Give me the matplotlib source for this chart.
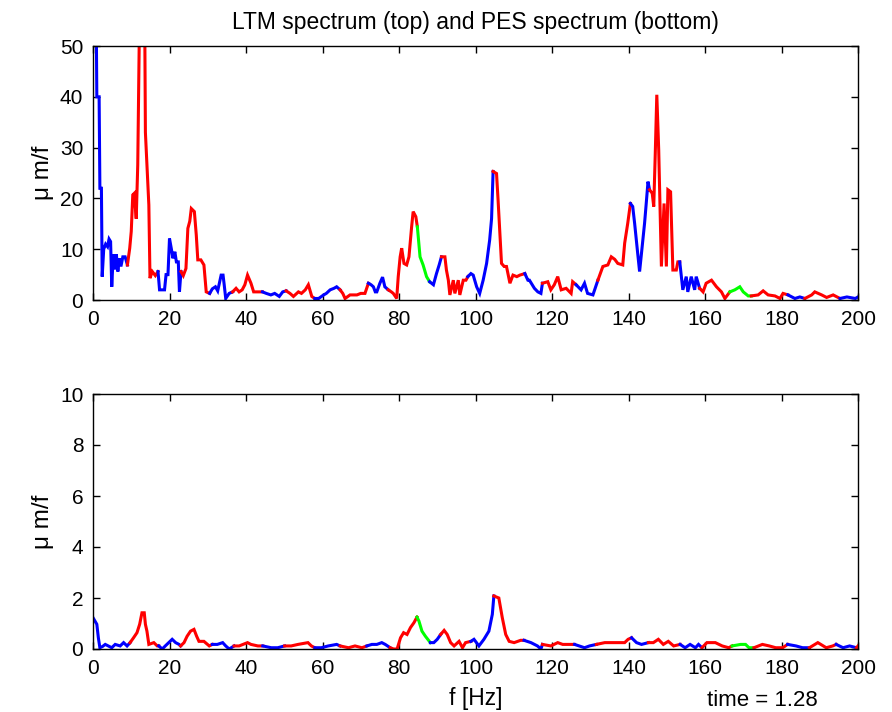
import matplotlib
matplotlib.use("Agg")
import matplotlib.pyplot as plt
import numpy as np

# ---------------- data ----------------
# frequency bands and their colours (shared by both spectra)
band_edges = [0, 9, 17, 22.7, 30.5, 35.7, 44, 49.7, 58, 64.5, 71.5, 77, 84.7, 88,
              90.7, 98, 104.5, 112.5, 117.3, 125.5, 131.5, 140, 145.2, 153.2,
              158.5, 166.5, 172, 180.5, 186, 193.8, 199.5, 200.01]
band_colors = ['b', 'r', 'b', 'r', 'b', 'r', 'b', 'r', 'b', 'r', 'b', 'r', 'g', 'b',
               'r', 'b', 'r', 'b', 'r', 'b', 'r', 'b', 'r', 'b', 'r', 'g', 'r', 'b',
               'r', 'b', 'r']

# LTM spectrum (top)
ltm_f = [0, 0.8, 1.0, 1.6, 1.8, 2.2, 2.4, 2.8, 3.3, 3.8, 4.2, 4.6, 4.9, 5.3, 5.7,
         6.1, 6.5, 6.9, 7.3, 7.8, 8.4, 9.0, 9.6, 10.0, 10.4, 10.8, 11.3, 11.7, 12.2,
         13.5, 13.7, 14.6, 14.9, 15.5, 16.3, 17.0, 17.4, 18.7, 19.1, 19.6, 20.0,
         20.5, 20.9, 21.4, 21.8, 22.3, 22.6, 23.0, 23.6, 24.3, 24.8, 25.3, 25.7,
         26.5, 27.0, 27.4, 28.2, 29.0, 29.6, 30.5, 31.2, 32.0, 32.6, 33.5, 34.0,
         34.3, 34.7, 35.6, 36.5, 37.4, 38.2, 39.0, 39.7, 40.4, 41.3, 42.0, 43.0,
         44.3, 45.3, 46.5, 47.5, 48.7, 49.6, 50.5, 51.5, 52.4, 53.7, 54.5, 55.5,
         56.3, 57.2, 58.0, 59.0, 60.3, 61.0, 62.0, 63.0, 63.7, 64.6, 65.3, 65.9,
         67.2, 68.0, 69.0, 70.0, 71.1, 72.0, 72.7, 73.3, 73.8, 74.2, 75.0, 75.7,
         76.3, 77.2, 78.0, 78.5, 79.4, 79.8, 80.3, 80.7, 81.3, 82.0, 82.6, 83.3,
         83.7, 84.4, 84.8, 85.5, 86.3, 87.2, 88.0, 89.0, 89.8, 90.5, 91.1, 92.0,
         92.4, 92.9, 93.3, 94.2, 94.6, 95.5, 95.9, 96.8, 97.5, 98.0, 98.8, 99.4,
         100.3, 101.1, 102.0, 102.9, 103.7, 104.2, 104.6, 105.5, 105.9, 106.8,
         107.5, 108.1, 109.0, 109.8, 110.8, 111.6, 112.9, 113.7, 114.1, 115.4,
         116.3, 117.1, 117.5, 118.9, 119.7, 120.6, 121.5, 122.4, 123.7, 125.0,
         125.4, 126.3, 127.6, 128.5, 129.3, 130.7, 132.0, 133.3, 134.6, 135.5,
         136.4, 137.2, 138.5, 139.0, 139.8, 140.5, 141.1, 141.6, 142.4, 142.9,
         143.3, 144.2, 144.6, 145.1, 145.5, 146.2, 146.6, 147.0, 147.4, 147.9,
         148.6, 149.3, 149.9, 150.3, 151.0, 151.6, 152.5, 152.9, 153.4, 154.2,
         155.1, 155.5, 156.4, 157.3, 157.7, 158.6, 159.5, 160.3, 161.7, 163.0,
         164.3, 165.2, 166.5, 167.8, 169.1, 170.0, 171.3, 172.1, 173.9, 175.2,
         176.5, 178.3, 179.6, 180.4, 181.7, 183.5, 184.8, 186.1, 187.9, 188.7,
         190.5, 191.8, 193.5, 195.3, 197.1, 199.3, 200.0]
ltm_v = [62, 60, 40, 40, 22, 22, 4.6, 10, 11, 10.5, 12, 11.5, 2.6, 9, 6,
         9, 5.6, 8.2, 6.6, 8.5, 8.5, 6.9, 10.2, 13.5, 20.7, 21, 16, 26.6, 58,
         58, 33, 18.7, 4.3, 5.6, 4.8, 5.6, 2.0, 2.0, 5.0, 5.0, 12.1,
         10, 8.2, 9.5, 7.5, 7.5, 1.6, 5.6, 4.8, 6.2, 14.1, 15.5, 18.0,
         17.4, 12.8, 7.9, 7.9, 6.9, 1.6, 1.3, 2.2, 2.6, 1.8, 4.9, 4.9,
         3.0, 0.3, 1.3, 1.6, 2.3, 1.6, 2.0, 3.0, 4.9, 3.3, 1.6, 1.6,
         1.6, 1.3, 1.0, 1.3, 0.7, 1.6, 1.8, 1.3, 0.7, 1.6, 1.3, 2.0,
         3.0, 0.7, 0.3, 0.3, 1.0, 1.3, 2.0, 2.3, 2.6, 2.0, 1.3, 0.3,
         1.0, 1.0, 1.0, 1.3, 1.3, 3.3, 3.0, 2.6, 1.6, 1.6, 3.3, 4.5,
         2.6, 2.0, 1.6, 1.3, 0.3, 4.6, 8.5, 10.2, 7.2, 6.9, 8.5, 14.4,
         17.4, 16.4, 14.4, 8.5, 6.9, 4.6, 3.6, 3.0, 5.2, 6.9, 8.5, 8.5,
         5.9, 3.9, 1.0, 3.9, 1.3, 3.9, 1.0, 3.9, 3.9, 4.6, 5.2, 4.9,
         2.6, 1.3, 3.9, 7.2, 11.8, 16.0, 25.3, 24.9, 19.7, 7.2,
         6.6, 6.6, 3.3, 4.9, 4.6, 4.9, 5.2, 3.9, 3.9, 2.3,
         1.6, 1.3, 3.3, 3.6, 2.0, 3.0, 4.6, 2.0, 2.3, 1.3,
         3.6, 3.0, 2.0, 3.3, 1.3, 1.0, 3.9, 6.6, 6.9, 8.5,
         8.0, 7.2, 6.9, 11.2, 15.1, 19.0, 18.4, 15.1, 9.2, 5.6,
         8.5, 15.1, 18.7, 23.3, 21.7, 21.0, 18.4, 28.9, 40.4, 29.5,
         6.6, 19.0, 6.6, 21.7, 21.3, 5.9, 5.9, 7.5, 7.5, 2.0,
         4.6, 1.6, 4.6, 2.0, 4.6, 2.3, 1.6, 3.3, 3.9, 2.6,
         1.6, 0.3, 1.6, 2.0, 2.6, 1.6, 0.8, 0.8, 1.0, 1.8,
         1.0, 0.8, 0.3, 1.3, 1.0, 0.3, 0.6, 0.3, 1.0, 1.6,
         1.0, 0.5, 1.0, 0.3, 0.6, 0.3, 0.6]

# PES spectrum (bottom)
pes_f = [0, 0.5, 1.0, 1.4, 1.8, 2.5, 3.2, 4.0, 4.9, 5.8, 7.1, 8.0, 8.9, 9.7, 10.6,
         11.5, 12.2, 12.8, 13.4, 13.7, 14.1, 14.6, 15.9, 16.8, 17.2, 18.1, 18.9,
         19.8, 20.7, 21.6, 22.5, 22.9, 23.8, 24.6, 25.5, 26.4, 27.1, 27.7, 29.0,
         30.4, 31.2, 32.5, 33.9, 34.7, 35.6, 36.9, 38.2, 40.4, 41.3, 43.1, 44.4,
         46.6, 48.3, 50.1, 51.8, 53.6, 56.2, 57.1, 58.0, 59.7, 61.5, 63.7, 64.6,
         66.8, 68.5, 70.3, 71.6, 72.9, 74.2, 75.5, 76.4, 77.7, 78.6, 79.5, 80.4,
         81.2, 82.1, 83.0, 83.9, 84.7, 85.2, 86.0, 86.9, 88.2, 89.1, 90.0, 90.9,
         91.8, 92.6, 93.5, 94.4, 95.7, 96.6, 97.4, 98.8, 99.6, 100.9, 102.2,
         103.5, 104.4, 104.8, 106.1, 107.0, 107.9, 108.8, 110.1, 111.8, 112.7,
         114.5, 116.2, 117.1, 117.5, 119.7, 121.5, 122.8, 125.0, 125.9, 128.5,
         129.8, 131.6, 133.8, 136.4, 139.0, 139.9, 140.8, 142.1, 143.4, 145.2,
         146.5, 147.8, 149.1, 150.4, 151.8, 153.5, 154.8, 156.1, 157.5, 158.3,
         159.2, 160.5, 162.7, 164.5, 166.2, 167.1, 169.3, 170.6, 171.5, 172.8,
         175.0, 176.8, 178.5, 180.3, 181.6, 183.8, 185.5, 187.3, 189.5, 191.7,
         193.4, 194.3, 196.1, 197.8, 199.6, 200.0]
pes_v = [1.23, 1.1, 0.97, 0.44, 0.05, 0.1, 0.18, 0.12, 0.05, 0.18, 0.12, 0.25, 0.12,
         0.25, 0.44, 0.64, 0.97, 1.42, 1.42, 0.97, 0.7, 0.18, 0.25, 0.12, 0.12,
         0.0, 0.12, 0.25, 0.38, 0.25, 0.18, 0.12, 0.25, 0.5, 0.7, 0.77, 0.5,
         0.3, 0.3, 0.12, 0.18, 0.18, 0.25, 0.12, 0.0, 0.12, 0.12, 0.25, 0.18,
         0.12, 0.12, 0.05, 0.05, 0.12, 0.12, 0.18, 0.25, 0.12, 0.05, 0.05, 0.12,
         0.18, 0.12, 0.05, 0.12, 0.05, 0.12, 0.18, 0.18, 0.25, 0.18, 0.05, 0.0,
         0.0, 0.44, 0.64, 0.57, 0.84, 1.03, 1.25, 1.1, 0.7, 0.5, 0.25, 0.25,
         0.38, 0.57, 0.73, 0.57, 0.25, 0.12, 0.3, 0.05, 0.25, 0.3, 0.38, 0.12,
         0.38, 0.7, 1.36, 2.08, 2.0, 1.23, 0.57, 0.3, 0.25, 0.34, 0.34, 0.25,
         0.12, 0.0, 0.18, 0.12, 0.25, 0.18, 0.18, 0.18, 0.05, 0.12, 0.18, 0.25,
         0.25, 0.25, 0.38, 0.44, 0.25, 0.18, 0.25, 0.25, 0.38, 0.18, 0.3, 0.12,
         0.18, 0.05, 0.18, 0.05, 0.18, 0.05, 0.25, 0.25, 0.12, 0.05, 0.12, 0.18,
         0.18, 0.05, 0.05, 0.18, 0.12, 0.05, 0.05, 0.18, 0.12, 0.05, 0.05, 0.25,
         0.05, 0.12, 0.18, 0.05, 0.12, 0.05, 0.12]

x_ticks = list(range(0, 201, 20))
top_yticks = list(range(0, 51, 10))
bot_yticks = list(range(0, 11, 2))
title = "LTM spectrum (top) and PES spectrum (bottom)"
ylabel = "\u03bc m/f"
xlabel = "f [Hz]"
time_label = "time = 1.28"

# ---------------- style ----------------
plt.rcParams['font.family'] = ['Liberation Sans', 'DejaVu Sans']
TICK_FS = 15
LABEL_FS = 16.5
cmap = {'r': '#ff0000', 'b': '#0000ff', 'g': '#00ff00'}

fig = plt.figure(figsize=(8.92, 7.12), dpi=100)
ax1 = fig.add_axes([93 / 892, (712 - 300) / 712, 765 / 892, 254 / 712])
ax2 = fig.add_axes([93 / 892, (712 - 649) / 712, 765 / 892, 255 / 712])


def draw(ax, f, v):
    f = np.asarray(f)
    v = np.asarray(v)
    for lo, hi, c in zip(band_edges[:-1], band_edges[1:], band_colors):
        idx = np.where((f >= lo) & (f < hi))[0]
        if len(idx) == 0:
            continue
        last = min(idx[-1] + 1, len(f) - 1)
        sel = np.arange(idx[0], last + 1)
        ax.plot(f[sel], v[sel], color=cmap[c], lw=2.2, solid_joinstyle='miter')


draw(ax1, ltm_f, ltm_v)
draw(ax2, pes_f, pes_v)

for ax, yt, ylim in ((ax1, top_yticks, (0, 50)), (ax2, bot_yticks, (0, 10))):
    ax.set_xlim(0, 200)
    ax.set_ylim(*ylim)
    ax.set_xticks(x_ticks)
    ax.set_yticks(yt)
    ax.tick_params(direction='in', top=True, right=True, length=5, width=1,
                   labelsize=TICK_FS, pad=7, color='black')
    for s in ax.spines.values():
        s.set_linewidth(1)
        s.set_color('black')
    ax.set_ylabel(ylabel, fontsize=17.5, labelpad=4.5)

ax1.set_title(title, fontsize=LABEL_FS, pad=12)
ax2.set_xlabel(xlabel, fontsize=LABEL_FS, labelpad=7)
fig.text(762 / 892, 1 - 710.5 / 712, time_label, fontsize=16, ha='center',
         va='bottom')

fig.savefig("out.png", dpi=100)
